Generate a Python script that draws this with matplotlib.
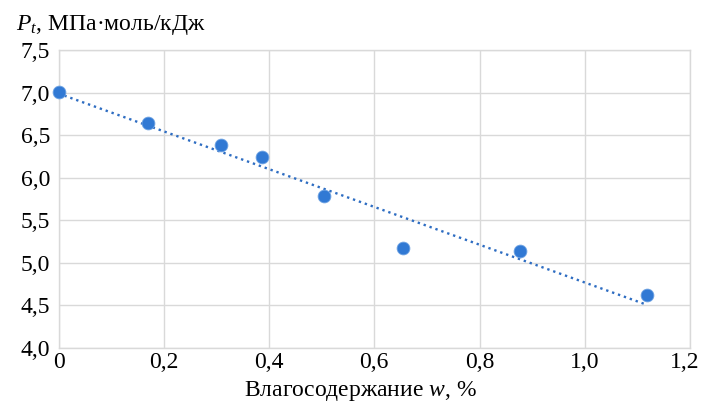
import numpy as np
import matplotlib
matplotlib.use("Agg")
import matplotlib.pyplot as plt
import matplotlib.transforms as mtransforms
from matplotlib.ticker import FuncFormatter

# Data
w_values = [0.0, 0.171, 0.308, 0.386, 0.505, 0.654, 0.877, 1.118]
pt_values = [7.01, 6.64, 6.39, 6.24, 5.78, 5.17, 5.14, 4.62]
x_ticks = [0, 0.2, 0.4, 0.6, 0.8, 1.0, 1.2]
y_ticks = [4.0, 4.5, 5.0, 5.5, 6.0, 6.5, 7.0, 7.5]
title_text = r"$P_t$, МПа·моль/кДж"
xlabel_text = r"Влагосодержание $w$, %"

plt.rcParams['font.family'] = ['Liberation Serif', 'DejaVu Serif']
plt.rcParams['mathtext.fontset'] = 'custom'
plt.rcParams['mathtext.rm'] = 'Liberation Serif'
plt.rcParams['mathtext.it'] = 'Liberation Serif:italic'

fig = plt.figure(figsize=(7.02, 4.08), dpi=100)
ax = fig.add_axes([58.5/702, 1-348/408, 631.5/702, 298/408])

x = np.array(w_values)
y = np.array(pt_values)
k, b = np.polyfit(x, y, 1)
xt = np.array([x.min(), x.max()])
ax.plot(xt, k*xt + b, linestyle=':', color='#2E6DC2', lw=1.7, zorder=2)
ax.scatter(x, y, s=85, color='#3179D4', edgecolors='#6FA3E3', linewidths=0.6, zorder=3, clip_on=False)

ax.set_xlim(0, 1.2)
ax.set_ylim(4.0, 7.5)
ax.set_xticks(x_ticks)
ax.set_yticks(y_ticks)

def fmt_x(v, pos):
    if abs(v) < 1e-9:
        return "0"
    return f"{v:.1f}".replace('.', ',')

def fmt_y(v, pos):
    return f"{v:.1f}".replace('.', ',')

ax.xaxis.set_major_formatter(FuncFormatter(fmt_x))
ax.yaxis.set_major_formatter(FuncFormatter(fmt_y))
ax.tick_params(axis='both', length=0, labelsize=17, colors='black')
ax.tick_params(axis='x', pad=3)
ax.tick_params(axis='y', pad=6)
ax.grid(True, color='#D9D9D9', lw=1.0)
ax.set_axisbelow(True)
for s in ax.spines.values():
    s.set_color('#D9D9D9')
    s.set_linewidth(1.0)

# shift last x tick label inward slightly, like the reference
fig.canvas.draw()
last = ax.get_xticklabels()[-1]
last.set_transform(last.get_transform() + mtransforms.ScaledTranslation(-5/100, 0, fig.dpi_scale_trans))

ax.set_xlabel(xlabel_text, fontsize=17)
ax.xaxis.set_label_coords((360 - 58.5) / 631.5, -(391 - 348) / 298)
ax.xaxis.label.set_va('center')
fig.text(16/702, 1-25/408, title_text, fontsize=17, va='center', ha='left')

fig.savefig("out.png", dpi=100)
